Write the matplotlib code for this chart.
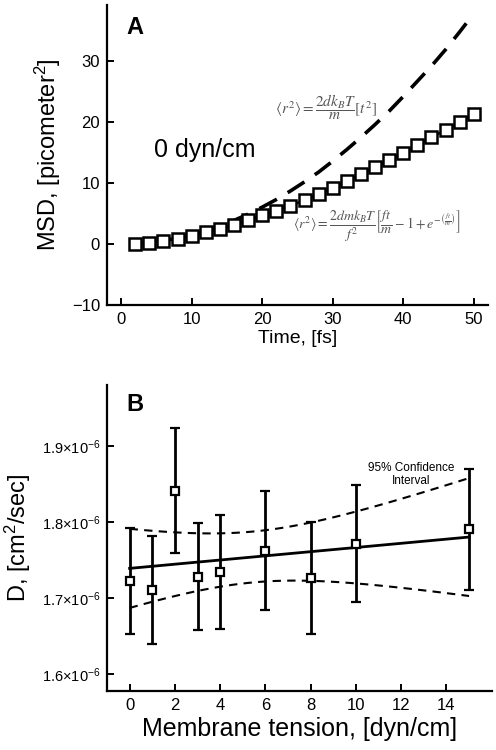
import numpy as np
import matplotlib
matplotlib.use('Agg')
import matplotlib.pyplot as plt

plt.rcParams['font.family'] = ['Liberation Sans', 'DejaVu Sans']
plt.rcParams['mathtext.fontset'] = 'custom'
plt.rcParams['mathtext.rm'] = 'Liberation Sans'
plt.rcParams['mathtext.it'] = 'Liberation Sans:italic'
plt.rcParams['mathtext.bf'] = 'Liberation Sans:bold'

# Panel A data - MSD vs time
time_fs = [2, 4, 6, 8, 10, 12, 14, 16, 18, 20, 22, 24, 26,
           28, 30, 32, 34, 36, 38, 40, 42, 44, 46, 48, 50]
msd_sim = [0.0, 0.2, 0.5, 0.9, 1.3, 1.9, 2.5, 3.1, 3.9, 4.7, 5.5, 6.3, 7.2,
           8.2, 9.2, 10.3, 11.5, 12.6, 13.8, 15.0, 16.2, 17.5, 18.7, 20.0, 21.4]
msd_ballistic = [0.06, 0.24, 0.54, 0.97, 1.51, 2.18, 2.96, 3.87, 4.9, 6.05, 7.3, 8.7, 10.2,
                 11.8, 13.6, 15.5, 17.5, 19.6, 21.8, 24.2, 26.7, 29.2, 31.9, 34.8, 37.8]

# Panel B data - diffusion coefficient vs membrane tension
tension = [0, 1, 2, 3, 4, 6, 8, 10, 15]
D_vals = [1.722, 1.710, 1.841, 1.728, 1.734, 1.762, 1.726, 1.771, 1.790]  # x1e-6
D_err = [0.070, 0.071, 0.082, 0.070, 0.075, 0.078, 0.074, 0.077, 0.080]
t_crit = 2.365  # t(0.975, df=7)

fig = plt.figure(figsize=(4.96, 7.5), dpi=100)

# ---- Panel A ----
ax1 = fig.add_axes([0.2157, 0.5933, 0.768, 0.4])
ax1.plot(time_fs, msd_ballistic, color='black', lw=2.6, dashes=(5.5, 3.5))
ax1.plot(time_fs, msd_sim, color='black', lw=1.6, marker='s', ms=8,
         mfc='white', mec='black', mew=1.8)
ax1.set_xlim(-2, 52)
ax1.set_ylim(-10, 39.2)
ax1.set_xticks([0, 10, 20, 30, 40, 50])
ax1.set_yticks([-10, 0, 10, 20, 30])
ax1.set_xlabel('Time, [fs]', fontsize=14, labelpad=2)
ax1.set_ylabel('MSD, [picometer$^2$]', fontsize=17, labelpad=6)
ax1.text(0.05, 0.965, 'A', transform=ax1.transAxes, fontsize=17,
         fontweight='bold', va='top')
ax1.text(4.7, 15.5, '0 dyn/cm', fontsize=18, va='center')
ax1.text(21.8, 22.5,
         r'$\left\langle r^2\right\rangle=\dfrac{2dk_BT}{m}\left[t^2\right]$',
         fontsize=11, color='#555555', va='center', math_fontfamily='stix')
ax1.text(24.4, 3.0,
         r'$\left\langle r^2\right\rangle=\dfrac{2dmk_BT}{f^2}\left[\dfrac{ft}{m}-1+e^{-\left(\frac{ft}{m}\right)}\right]$',
         fontsize=10, color='#555555', va='center', math_fontfamily='stix')

# ---- Panel B ----
ax2 = fig.add_axes([0.2157, 0.0791, 0.7756, 0.4076])
x = np.array(tension, dtype=float)
y = np.array(D_vals)
slope, intercept = np.polyfit(x, y, 1)
xf = np.linspace(0, 15, 100)
yf = intercept + slope * xf
resid = y - (intercept + slope * x)
s = np.sqrt(np.sum(resid ** 2) / (len(x) - 2))
half = t_crit * s * np.sqrt(1 / len(x) + (xf - x.mean()) ** 2 / np.sum((x - x.mean()) ** 2))
ax2.plot(xf, yf, color='black', lw=2)
ax2.plot(xf, yf + half, color='black', lw=1.5, dashes=(4, 3))
ax2.plot(xf, yf - half, color='black', lw=1.5, dashes=(4, 3))
ax2.errorbar(tension, D_vals, yerr=D_err, fmt='s', color='black', ms=6,
             mfc='white', mec='black', mew=1.6, elinewidth=2, capsize=3.5,
             capthick=2, zorder=5)
ax2.set_xlim(-1, 16)
ax2.set_ylim(1.578, 1.98)
ax2.set_xticks([0, 2, 4, 6, 8, 10, 12, 14])
ax2.set_yticks([1.6, 1.7, 1.8, 1.9])
ax2.set_yticklabels([r'1.6$\times$10$^{-6}$', r'1.7$\times$10$^{-6}$',
                     r'1.8$\times$10$^{-6}$', r'1.9$\times$10$^{-6}$'])
ax2.set_xlabel('Membrane tension, [dyn/cm]', fontsize=18, labelpad=3)
ax2.set_ylabel('D, [cm$^2$/sec]', fontsize=17, labelpad=6)
ax2.text(0.05, 0.975, 'B', transform=ax2.transAxes, fontsize=17,
         fontweight='bold', va='top')
ax2.text(12.45, 1.862, '95% Confidence\nInterval', fontsize=8.5,
         ha='center', va='center', linespacing=1.1)

for ax in (ax1, ax2):
    ax.spines['top'].set_visible(False)
    ax.spines['right'].set_visible(False)
    ax.spines['left'].set_linewidth(1.6)
    ax.spines['bottom'].set_linewidth(1.6)
    ax.tick_params(direction='in', length=5, width=1.4, labelsize=12, pad=5)
ax2.tick_params(axis='y', labelsize=10.5)

fig.savefig('out.png', dpi=100)
